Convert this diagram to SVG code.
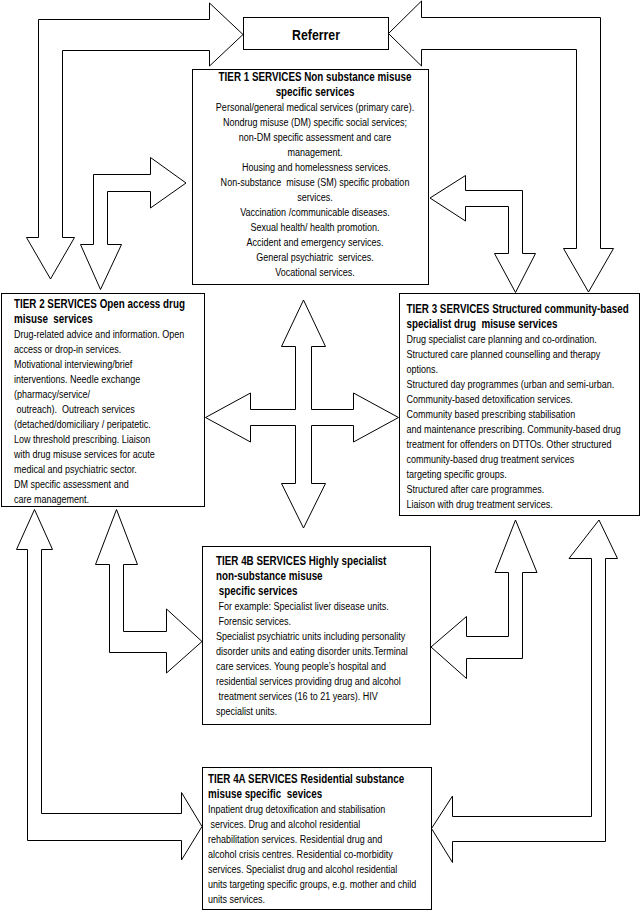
<svg xmlns="http://www.w3.org/2000/svg" width="643" height="913" viewBox="0 0 643 913">
<style>
.box{fill:#fff;stroke:#000;stroke-width:1}
.arr{fill:#fff;stroke:#000;stroke-width:1;stroke-linejoin:miter}
text{white-space:pre}
.t{font-family:"Liberation Sans",Arial,sans-serif;font-size:11px;fill:#000}
.b{font-family:"Liberation Sans",Arial,sans-serif;font-size:12px;font-weight:bold;fill:#000}
.r{font-family:"Liberation Sans",Arial,sans-serif;font-size:15px;font-weight:bold;fill:#000}
</style>
<rect x="0" y="0" width="643" height="913" fill="#fff"/>
<g id="connectors">
<polygon class="arr" points="243,34.5 209.5,3 209.5,19.5 38.5,19.5 38.5,237.5 26.5,237.5 50.5,279 74.5,237.5 62.5,237.5 62.5,50.5 209.5,50.5 209.5,66"/>
<polygon class="arr" points="388.5,33.5 421.5,1 421.5,17.5 600.5,17.5 600.5,248.5 613.5,248.5 588.5,292 563.5,248.5 576.5,248.5 576.5,49.5 421.5,49.5 421.5,66"/>
<polygon class="arr" points="186,183 150.5,157.5 150.5,174.5 93.5,174.5 93.5,244.5 80.5,244.5 100.5,289.5 121.5,244.5 107.5,244.5 107.5,191.5 150.5,191.5 150.5,208"/>
<polygon class="arr" points="430,198 465.5,175.5 465.5,190.5 522.5,190.5 522.5,253.5 535.5,253.5 515.5,292.5 494.5,253.5 508.5,253.5 508.5,206.5 465.5,206.5 465.5,221"/>
<polygon class="arr" points="303.5,300 325.5,346.5 311.5,346.5 311.5,409.5 353.5,409.5 353.5,393 398.5,417.5 353.5,442 353.5,425.5 311.5,425.5 311.5,483.5 325.5,483.5 303.5,528 281.5,483.5 295.5,483.5 295.5,425.5 250.5,425.5 250.5,442 205.5,417.5 250.5,393 250.5,409.5 295.5,409.5 295.5,346.5 281.5,346.5"/>
<polygon class="arr" points="116.5,509.5 95.5,564.5 109.5,564.5 109.5,652.5 166.5,652.5 166.5,673 202,641.5 166.5,609 166.5,631.5 123.5,631.5 123.5,564.5 137.5,564.5"/>
<polygon class="arr" points="515.5,520 537,572.5 522.5,572.5 522.5,658.5 466.5,658.5 466.5,678.5 431,647 466.5,616.5 466.5,636.5 508.5,636.5 508.5,572.5 495,572.5"/>
<polygon class="arr" points="34.5,509.5 16.5,549.5 27.5,549.5 27.5,840.5 181.5,840.5 181.5,860 202,826.5 181.5,792.5 181.5,813.5 41.5,813.5 41.5,549.5 52.5,549.5"/>
<polygon class="arr" points="599,520 617.5,558.5 605.5,558.5 605.5,841.5 452.5,841.5 452.5,862.5 431.5,828.5 452.5,796 452.5,816.5 591.5,816.5 591.5,558.5 569,558.5"/>
</g>
<g id="referrer">
<rect class="box" x="243.5" y="17.5" width="145" height="32"/>
<g transform="translate(316,0) scale(0.82,1)"><text class="r" x="0" y="40.5" text-anchor="middle">Referrer</text></g>
</g>
<g id="tier1">
<rect class="box" x="192.5" y="69.5" width="236" height="215"/>
<g transform="translate(315,0) scale(0.82,1)" text-anchor="middle">
<text class="b" x="0" y="81.5">TIER 1 SERVICES Non substance misuse</text>
<text class="b" x="0" y="96.5">specific services</text>
<text class="t" x="0" y="111.5">Personal/general medical services (primary care).</text>
<text class="t" x="0" y="126.5">Nondrug misuse (DM) specific social services;</text>
<text class="t" x="0" y="141.5">non-DM specific assessment and care</text>
<text class="t" x="0" y="156.5">management.</text>
<text class="t" x="0" y="171.5" xml:space="preserve"> Housing and homelessness services.</text>
<text class="t" x="0" y="186.5" xml:space="preserve">Non-substance  misuse (SM) specific probation</text>
<text class="t" x="0" y="201.5">services.</text>
<text class="t" x="0" y="216.5">Vaccination /communicable diseases.</text>
<text class="t" x="0" y="231.5">Sexual health/ health promotion.</text>
<text class="t" x="0" y="246.5">Accident and emergency services.</text>
<text class="t" x="0" y="261.5" xml:space="preserve">General psychiatric  services.</text>
<text class="t" x="0" y="276.5">Vocational services.</text>
</g>
</g>
<g id="tier2">
<rect class="box" x="1.5" y="293.5" width="203" height="213"/>
<g transform="translate(14,0) scale(0.82,1)">
<text class="b" x="0" y="308">TIER 2 SERVICES Open access drug</text>
<text class="b" x="0" y="323" xml:space="preserve">misuse  services</text>
<text class="t" x="0" y="338">Drug-related advice and information. Open</text>
<text class="t" x="0" y="353">access or drop-in services.</text>
<text class="t" x="0" y="368">Motivational interviewing/brief</text>
<text class="t" x="0" y="383">interventions. Needle exchange</text>
<text class="t" x="0" y="398">(pharmacy/service/</text>
<text class="t" x="0" y="413" xml:space="preserve"> outreach).  Outreach services</text>
<text class="t" x="0" y="428">(detached/domiciliary / peripatetic.</text>
<text class="t" x="0" y="443">Low threshold prescribing. Liaison</text>
<text class="t" x="0" y="458">with drug misuse services for acute</text>
<text class="t" x="0" y="473">medical and psychiatric sector.</text>
<text class="t" x="0" y="488">DM specific assessment and</text>
<text class="t" x="0" y="503">care management.</text>
</g>
</g>
<g id="tier3">
<rect class="box" x="399.5" y="293.5" width="240" height="222"/>
<g transform="translate(406.5,0) scale(0.82,1)">
<text class="b" x="0" y="313">TIER 3 SERVICES Structured community-based</text>
<text class="b" x="0" y="328" xml:space="preserve">specialist drug  misuse services</text>
<text class="t" x="0" y="343">Drug specialist care planning and co-ordination.</text>
<text class="t" x="0" y="358">Structured care planned counselling and therapy</text>
<text class="t" x="0" y="373">options.</text>
<text class="t" x="0" y="388">Structured day programmes (urban and semi-urban.</text>
<text class="t" x="0" y="403">Community-based detoxification services.</text>
<text class="t" x="0" y="418">Community based prescribing stabilisation</text>
<text class="t" x="0" y="433">and maintenance prescribing. Community-based drug</text>
<text class="t" x="0" y="448">treatment for offenders on DTTOs. Other structured</text>
<text class="t" x="0" y="463">community-based drug treatment services</text>
<text class="t" x="0" y="478">targeting specific groups.</text>
<text class="t" x="0" y="493">Structured after care programmes.</text>
<text class="t" x="0" y="508">Liaison with drug treatment services.</text>
</g>
</g>
<g id="tier4b">
<rect class="box" x="202.5" y="546.5" width="228" height="178"/>
<g transform="translate(216,0) scale(0.82,1)">
<text class="b" x="0" y="565.5">TIER 4B SERVICES Highly specialist</text>
<text class="b" x="0" y="580.5">non-substance misuse</text>
<text class="b" x="0" y="595.5" xml:space="preserve"> specific services</text>
<text class="t" x="0" y="610.5" xml:space="preserve"> For example: Specialist liver disease units.</text>
<text class="t" x="0" y="625.5" xml:space="preserve"> Forensic services.</text>
<text class="t" x="0" y="640.5">Specialist psychiatric units including personality</text>
<text class="t" x="0" y="655.5">disorder units and eating disorder units.Terminal</text>
<text class="t" x="0" y="670.5">care services. Young people’s hospital and</text>
<text class="t" x="0" y="685.5">residential services providing drug and alcohol</text>
<text class="t" x="0" y="700.5" xml:space="preserve"> treatment services (16 to 21 years). HIV</text>
<text class="t" x="0" y="715.5">specialist units.</text>
</g>
</g>
<g id="tier4a">
<rect class="box" x="202.5" y="767.5" width="229" height="142"/>
<g transform="translate(208,0) scale(0.82,1)">
<text class="b" x="0" y="783.5">TIER 4A SERVICES Residential substance</text>
<text class="b" x="0" y="798.5" xml:space="preserve">misuse specific  sevices</text>
<text class="t" x="0" y="813.5">Inpatient drug detoxification and stabilisation</text>
<text class="t" x="0" y="828.5" xml:space="preserve"> services. Drug and alcohol residential</text>
<text class="t" x="0" y="843.5">rehabilitation services. Residential drug and</text>
<text class="t" x="0" y="858.5">alcohol crisis centres. Residential co-morbidity</text>
<text class="t" x="0" y="873.5">services. Specialist drug and alcohol residential</text>
<text class="t" x="0" y="888.5">units targeting specific groups, e.g. mother and child</text>
<text class="t" x="0" y="903.5">units services.</text>
</g>
</g>
</svg>
